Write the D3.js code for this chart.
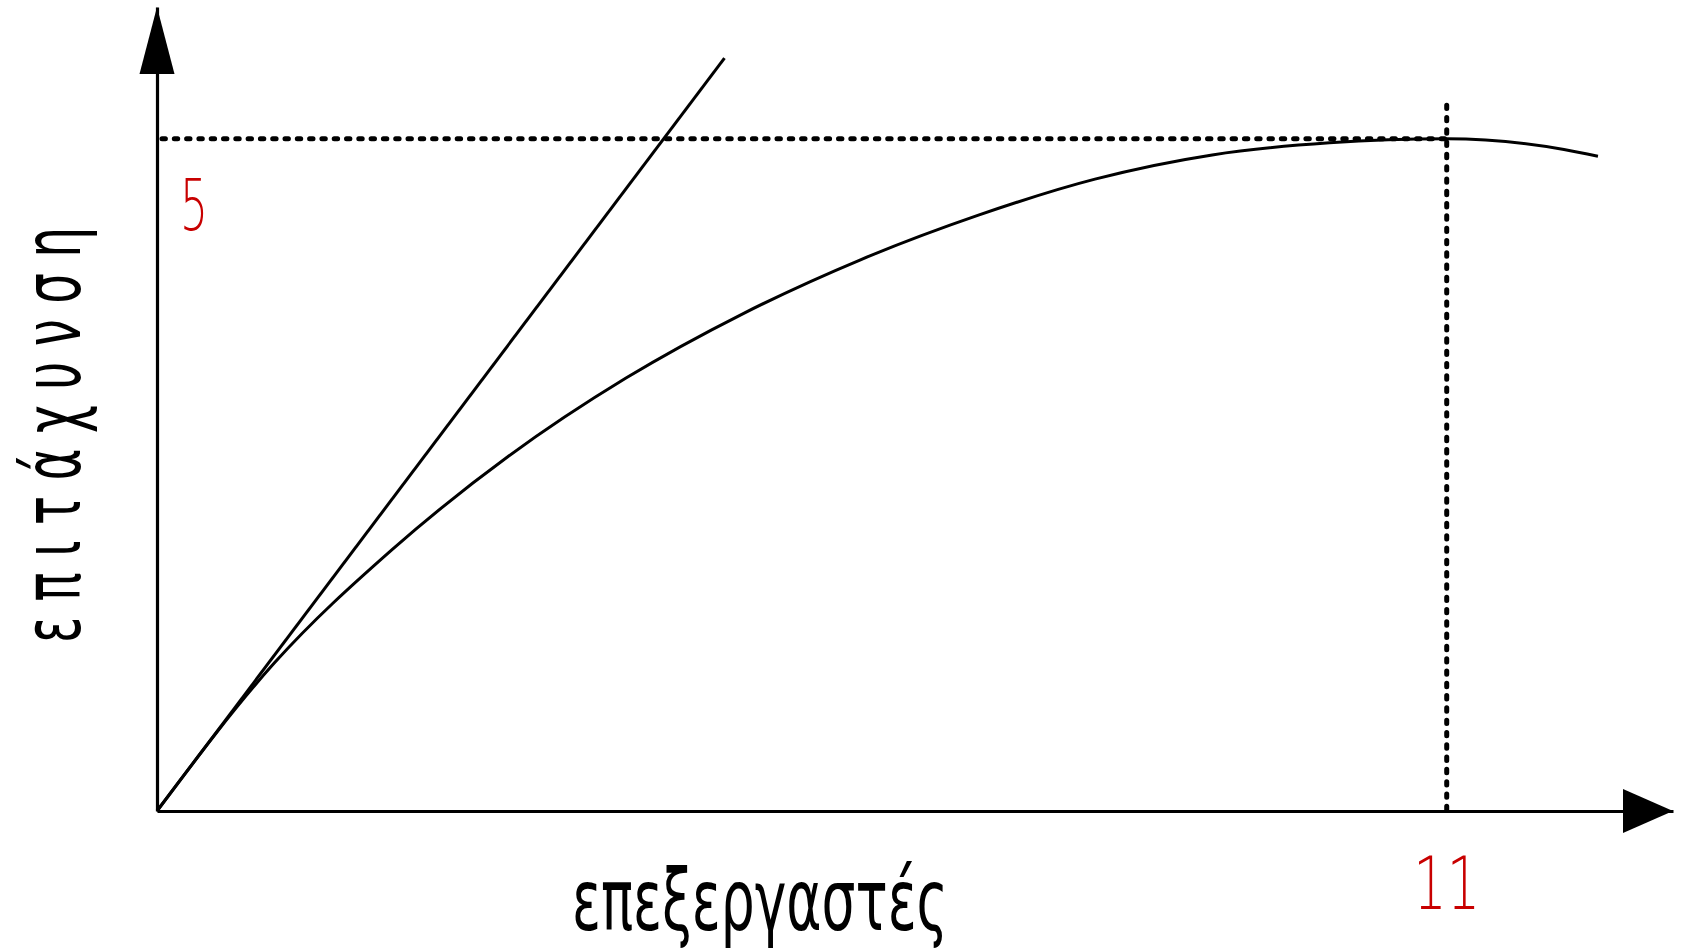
<!DOCTYPE html>
<html>
<head>
<meta charset="utf-8">
<script src="https://cdn.jsdelivr.net/npm/d3@7"></script>
<style>
  html, body { margin: 0; padding: 0; background: #fff; }
  svg { display: block; }
</style>
</head>
<body>
<svg id="chart"></svg>
<script>
// data (processors -> speedup)
const curveProcs   = [0, 1, 2, 3, 4, 5, 6, 7, 8, 9, 10, 11, 12, 12.29];
const curveSpeedup = [0, 1.1, 1.94, 2.64, 3.22, 3.7, 4.1, 4.43, 4.7, 4.88, 4.97, 5, 4.92, 4.87];
const idealProcs   = [0, 4.84];
const idealSpeedup = [0, 5.6];
const peakProc = 11;
const peakSpeedup = 5;
const xTickLabels = ["11"];
const yTickLabels = ["5"];
const xTitle = "επεξεργαστές";
const yTitle = "ε π ι τ ά χ υ ν σ η";

const width = 1683, height = 952;
const origin = { x: 157, y: 811 };
const xEnd = 1673, yEnd = 7;   // arrow tips

const svg = d3.select('#chart')
    .attr('width', width)
    .attr('height', height);

// scales
const x = d3.scaleLinear().domain([0, 12.93]).range([origin.x, xEnd]);
const y = d3.scaleLinear().domain([0, 5.98]).range([origin.y, yEnd]);

// axes (only the domain line)
const xAxis = d3.axisBottom(x).tickValues([]).tickSizeOuter(0);
const yAxis = d3.axisLeft(y).tickValues([]).tickSizeOuter(0);

svg.append('g')
    .attr('transform', `translate(0, ${origin.y})`)
    .call(xAxis)
    .select('.domain').attr('stroke', '#000').attr('stroke-width', 3.2);

svg.append('g')
    .attr('transform', `translate(${origin.x}, 0)`)
    .call(yAxis)
    .select('.domain').attr('stroke', '#000').attr('stroke-width', 3.2);

// arrow heads
svg.append('path')
    .attr('d', `M${x(12.93)},${y(0)} L${x(12.93) - 50},${y(0) - 22} L${x(12.93) - 50},${y(0) + 22} Z`)
    .attr('fill', '#000');
svg.append('path')
    .attr('d', `M${x(0)},${y(5.98)} L${x(0) - 17.5},${y(5.98) + 67} L${x(0) + 17.5},${y(5.98) + 67} Z`)
    .attr('fill', '#000');

// dotted guides
const dotted = g => g.attr('stroke', '#000')
    .attr('stroke-width', 5)
    .attr('stroke-dasharray', '3.4,8.9')
    .attr('stroke-linecap', 'round')
    .attr('fill', 'none');

svg.append('line')
    .attr('x1', x(0) + 5).attr('y1', y(peakSpeedup))
    .attr('x2', x(peakProc)).attr('y2', y(peakSpeedup))
    .call(dotted);

svg.append('line')
    .attr('x1', x(peakProc)).attr('y1', y(5.25))
    .attr('x2', x(peakProc)).attr('y2', y(0))
    .call(dotted);

// lines
const line = d3.line()
    .x(d => x(d[0]))
    .y(d => y(d[1]));

svg.append('path')
    .datum(d3.zip(idealProcs, idealSpeedup))
    .attr('d', line)
    .attr('fill', 'none')
    .attr('stroke', '#000')
    .attr('stroke-width', 3);

svg.append('path')
    .datum(d3.zip(curveProcs, curveSpeedup))
    .attr('d', line.curve(d3.curveMonotoneX))
    .attr('fill', 'none')
    .attr('stroke', '#000')
    .attr('stroke-width', 3);

// labels
const font = '"DejaVu Sans Condensed", "DejaVu Sans", sans-serif';

svg.append('text')
    .attr('x', x(0) + 23)
    .attr('y', y(peakSpeedup) + 91)
    .attr('font-family', '"DejaVu Sans", sans-serif')
    .attr('font-size', 72)
    .attr('font-weight', 200)
    .attr('fill', '#c80000')
    .attr('textLength', 28)
    .attr('lengthAdjust', 'spacingAndGlyphs')
    .text(yTickLabels[0]);

svg.append('text')
    .attr('x', x(peakProc))
    .attr('y', y(0) + 98)
    .attr('text-anchor', 'middle')
    .attr('font-family', '"DejaVu Sans", sans-serif')
    .attr('font-size', 73)
    .attr('font-weight', 200)
    .attr('fill', '#c80000')
    .attr('textLength', 67)
    .attr('lengthAdjust', 'spacingAndGlyphs')
    .text(xTickLabels[0]);

svg.append('text')
    .attr('x', 760)
    .attr('y', 930)
    .attr('text-anchor', 'middle')
    .attr('font-family', font)
    .attr('font-size', 86)
    .attr('fill', '#000')
    .attr('textLength', 376)
    .attr('lengthAdjust', 'spacingAndGlyphs')
    .text(xTitle);

svg.append('text')
    .attr('transform', 'translate(80, 435) rotate(-90)')
    .attr('text-anchor', 'middle')
    .attr('font-family', font)
    .attr('font-size', 80)
    .attr('fill', '#000')
    .attr('textLength', 416)
    .attr('lengthAdjust', 'spacingAndGlyphs')
    .text(yTitle);
</script>
</body>
</html>
